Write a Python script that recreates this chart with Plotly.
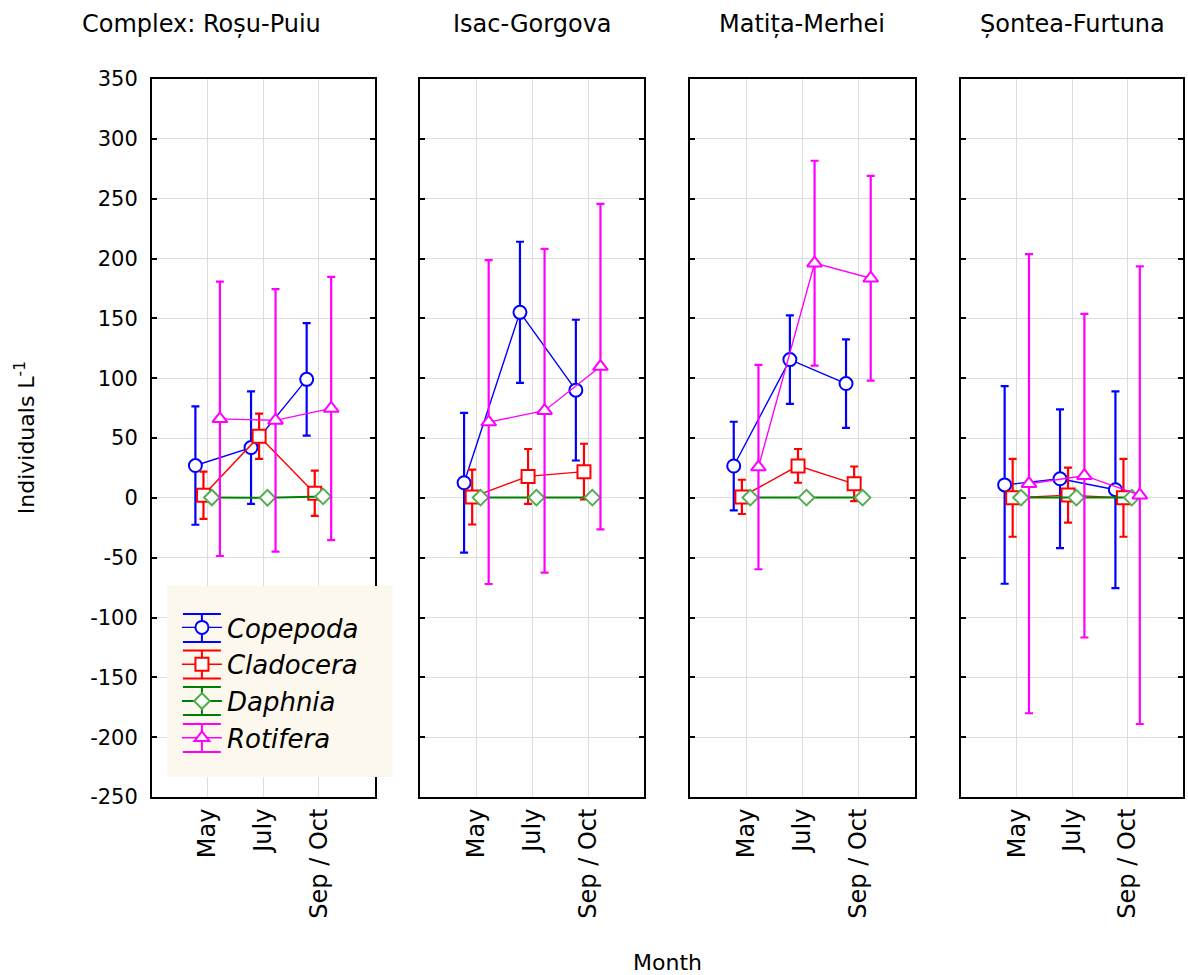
import plotly.graph_objects as go

months = ["May", "July", "Sep / Oct"]
complexes = ["Complex: Roșu-Puiu", "Isac-Gorgova", "Matița-Merhei", "Șontea-Furtuna"]
taxa = ["Copepoda", "Cladocera", "Daphnia", "Rotifera"]
y_tick_values = [-250, -200, -150, -100, -50, 0, 50, 100, 150, 200, 250, 300, 350]
y_tick_labels = ["-250", "-200", "-150", "-100", "-50", "0", "50", "100", "150", "200", "250", "300", "350"]

# mean values per complex (rows) and month (columns)
copepoda_mean = [[27, 42, 99], [12.6, 155, 90], [26.6, 115.5, 95.5], [10.8, 15.9, 6.8]]
copepoda_err = [[49.5, 47, 47], [58.4, 59, 58.8], [37, 37, 37], [82.6, 58, 82.2]]
cladocera_mean = [[2.2, 51.4, 3.9], [0.6, 17.9, 21.9], [0.8, 26.7, 11.7], [0, 2.3, 0]]
cladocera_err = [[19.7, 18.9, 18.9], [22.9, 22.9, 23.3], [14.3, 14.1, 14.5], [32.5, 23, 32.5]]
daphnia_mean = [[0.3, 0.0, 1.2], [0.2, 0.2, 0.2], [0.2, 0.2, 0.2], [0.2, 0.2, 0.2]]
daphnia_err = [[0.5, 0.5, 0.5], [0.5, 0.5, 0.5], [0.5, 0.5, 0.5], [0.5, 0.5, 0.5]]
rotifera_mean = [[66, 64.7, 74.7], [63.3, 72.8, 109.7], [25.7, 196.1, 183.5], [11.8, 18.5, 2.2]]
rotifera_err = [[114.6, 109.7, 110], [135.3, 135.3, 136], [85.4, 85.6, 85.6], [191.8, 135.2, 191.2]]

series = [
    ("Copepoda", copepoda_mean, copepoda_err),
    ("Cladocera", cladocera_mean, cladocera_err),
    ("Daphnia", daphnia_mean, daphnia_err),
    ("Rotifera", rotifera_mean, rotifera_err),
]

styles = {
    "Copepoda": dict(color="#0000FF", symbol="circle", mline="#0000FF", lw=1.4, size=13),
    "Cladocera": dict(color="#FF0000", symbol="square", mline="#FF0000", lw=1.4, size=13),
    "Daphnia": dict(color="#008000", symbol="diamond", mline="#4FAF4F", lw=2, size=12),
    "Rotifera": dict(color="#FF00FF", symbol="triangle-up", mline="#FF00FF", lw=1.4, size=13),
}
offsets = [-0.22, -0.075, 0.075, 0.22]

W, H = 1188, 975
ML, MR, MT, MB = 152, 3, 79, 178
PW = W - ML - MR
PH = H - MT - MB
panel_px = [(152, 375), (421, 645), (691, 916), (963, 1185)]
domains = [[(a - ML) / PW, (b - ML) / PW] for a, b in panel_px]


def px_x(px):
    return (px - ML) / PW


def px_y(py):
    return 1 - (py - MT) / PH


fig = go.Figure()
font_main = "DejaVu Sans"

for p in range(4):
    xa = "x" if p == 0 else f"x{p+1}"
    ya = "y" if p == 0 else f"y{p+1}"
    for s, (name, mean, err) in enumerate(series):
        st = styles[name]
        xs = [i + 1 + offsets[s] for i in range(len(months))]
        fig.add_trace(go.Scatter(
            x=xs, y=mean[p],
            mode="lines+markers",
            name=f"<i>{name}</i>",
            legendgroup=name,
            showlegend=(p == 0),
            line=dict(color=st["color"], width=st["lw"]),
            marker=dict(symbol=st["symbol"], size=st["size"], color="white",
                        line=dict(color=st["mline"], width=2)),
            error_y=dict(type="data", array=err[p], visible=True,
                         color=st["color"], thickness=2.2, width=4),
            xaxis=xa, yaxis=ya,
        ))

layout = dict(
    width=W, height=H,
    margin=dict(l=ML, r=MR, t=MT, b=MB),
    paper_bgcolor="white", plot_bgcolor="white",
    font=dict(family=font_main, size=20, color="black"),
    legend=dict(
        x=px_x(177), y=px_y(604), xanchor="left", yanchor="top",
        bgcolor="rgba(0,0,0,0)", borderwidth=0,
        font=dict(family=font_main, size=26, color="black"),
        tracegroupgap=0, itemwidth=40,
    ),
)

for p in range(4):
    xk = "xaxis" if p == 0 else f"xaxis{p+1}"
    yk = "yaxis" if p == 0 else f"yaxis{p+1}"
    layout[xk] = dict(
        domain=domains[p], range=[0, 4],
        tickmode="array", tickvals=[1, 2, 3], ticktext=months,
        tickangle=-90, ticks="", showgrid=True, gridcolor="#DDDDDD", gridwidth=1,
        showline=True, linecolor="black", linewidth=2, mirror=True,
        zeroline=False, anchor="y" if p == 0 else f"y{p+1}",
        tickfont=dict(family=font_main, size=24, color="black"),
        fixedrange=True,
    )
    layout[yk] = dict(
        domain=[0, 1], range=[-250, 350],
        tickmode="array", tickvals=y_tick_values, ticktext=y_tick_labels,
        ticks="inside", ticklen=5, tickwidth=2, tickcolor="black",
        showgrid=True, gridcolor="#DDDDDD", gridwidth=1,
        showline=True, linecolor="black", linewidth=2, mirror="ticks",
        zeroline=False, showticklabels=(p == 0),
        anchor="x" if p == 0 else f"x{p+1}",
        tickfont=dict(family=font_main, size=21, color="black"),
        ticklabelstandoff=8,
        fixedrange=True,
    )

fig.update_layout(**layout)

# legend background box and error-bar style caps on the legend glyphs (decoration)
shapes = [dict(type="rect", xref="paper", yref="paper",
               x0=px_x(167), x1=px_x(393), y0=px_y(777), y1=px_y(586),
               fillcolor="#FDF8EE", line=dict(width=0), layer="above")]
legend_rows_px = [628, 664.5, 701, 738]
for (name, _, _), yc in zip(series, legend_rows_px):
    c = styles[name]["color"]
    for dy in (-14, 14):
        shapes.append(dict(type="line", xref="paper", yref="paper",
                           x0=px_x(183), x1=px_x(221), y0=px_y(yc + dy), y1=px_y(yc + dy),
                           line=dict(color=c, width=2), layer="above"))
    shapes.append(dict(type="line", xref="paper", yref="paper",
                       x0=px_x(202), x1=px_x(202), y0=px_y(yc - 14), y1=px_y(yc + 14),
                       line=dict(color=c, width=2), layer="above"))
fig.update_layout(shapes=shapes)

# panel titles
title_x_px = [202, (421 + 645) / 2, (691 + 916) / 2, (963 + 1185) / 2]
for p in range(4):
    fig.add_annotation(
        text=complexes[p], xref="paper", yref="paper",
        x=px_x(title_x_px[p]), y=px_y(24),
        xanchor="center", yanchor="middle", showarrow=False,
        font=dict(family=font_main, size=24, color="black"),
    )

fig.add_annotation(
    text="Month", xref="paper", yref="paper",
    x=px_x(668), y=px_y(962),
    xanchor="center", yanchor="middle", showarrow=False,
    font=dict(family=font_main, size=22, color="black"),
)
fig.add_annotation(
    text="Individuals L<sup>-1</sup>", xref="paper", yref="paper",
    x=px_x(25), y=0.5, textangle=-90,
    xanchor="center", yanchor="middle", showarrow=False,
    font=dict(family=font_main, size=22, color="black"),
)

fig.write_html("out.html", config={"displayModeBar": False},
               post_script="document.body.style.margin='0px';")
